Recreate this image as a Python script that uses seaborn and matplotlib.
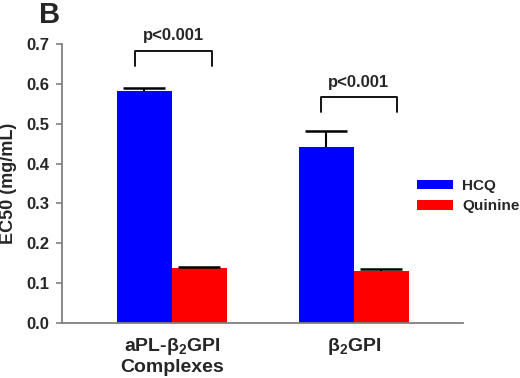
import matplotlib
matplotlib.use("Agg")
import matplotlib.pyplot as plt
import seaborn as sns
import pandas as pd
import numpy as np

categories = ["aPL-$\\mathbf{\\beta}_\\mathbf{2}$GPI\nComplexes", "$\\mathbf{\\beta}_\\mathbf{2}$GPI"]
drugs = ["HCQ", "Quinine"]
hcq_values = [0.581, 0.442]
quinine_values = [0.137, 0.130]
hcq_err = [0.008, 0.039]
quinine_err = [0.003, 0.005]
yticks = [0.0, 0.1, 0.2, 0.3, 0.4, 0.5, 0.6, 0.7]
pvalue_text = ["p<0.001", "p<0.001"]

sns.set_style("white")
plt.rcParams['font.family'] = ['Liberation Sans', 'DejaVu Sans']
plt.rcParams['font.weight'] = 'bold'
plt.rcParams['mathtext.fontset'] = 'custom'
plt.rcParams['mathtext.rm'] = 'Liberation Sans:bold'
plt.rcParams['mathtext.bf'] = 'Liberation Sans:bold'
plt.rcParams['mathtext.it'] = 'Liberation Sans:bold'

df = pd.DataFrame({
    "cat": categories * 2,
    "drug": [drugs[0]] * 2 + [drugs[1]] * 2,
    "val": hcq_values + quinine_values,
})

fig = plt.figure(figsize=(5.2, 3.78), dpi=100)
ax = fig.add_axes([62/520, 1 - 323/378, (463 - 62)/520, (323 - 44)/378])

sns.barplot(data=df, x="cat", y="val", hue="drug", order=categories,
            hue_order=drugs, palette={"HCQ": "#0000FF", "Quinine": "#FF0000"},
            width=0.605, gap=0, errorbar=None, saturation=1, ax=ax,
            linewidth=0)

# one-sided (upper) error bars
off = 0.605 / 4
xs_h = np.arange(len(categories)) - off
xs_q = np.arange(len(categories)) + off
for xs, vals, errs in [(xs_h, hcq_values, hcq_err), (xs_q, quinine_values, quinine_err)]:
    _, caps, _ = ax.errorbar(xs, vals, yerr=[np.zeros(len(vals)), errs], fmt="none",
                             ecolor="black", elinewidth=1.5, capsize=15, capthick=1.8)
    caps[0].set_visible(False)

ax.set_xlim(-0.604, 1.599)
ax.set_ylim(0, 0.7)
ax.set_yticks(yticks)
ax.set_yticklabels([f"{t:.1f}" for t in yticks])
ax.set_xlabel("")
ax.set_ylabel("EC50 (mg/mL)", fontsize=13, fontweight="bold", labelpad=7)

for s in ["top", "right"]:
    ax.spines[s].set_visible(False)
for s in ["left", "bottom"]:
    ax.spines[s].set_color("#808080")
    ax.spines[s].set_linewidth(1.3)
ax.tick_params(axis="y", which="both", left=True, length=4, width=1.2,
               color="#808080", labelsize=12, pad=5)
ax.tick_params(axis="x", bottom=False, labelsize=14, pad=6)
for lbl in ax.get_xticklabels() + ax.get_yticklabels():
    lbl.set_fontweight("bold")
    lbl.set_linespacing(1.15)

# significance brackets
brackets = [(-0.203, 0.220, 0.644, 0.682, 0.722),
            (0.817, 1.236, 0.529, 0.567, 0.604)]
for (x0, x1, yb, yt, ytxt), txt in zip(brackets, pvalue_text):
    ax.plot([x0, x0, x1, x1], [yb, yt, yt, yb], color="black", lw=1.3,
            clip_on=False)
    ax.text((x0 + x1) / 2, ytxt, txt, ha="center", va="center",
            fontsize=12, fontweight="bold", clip_on=False)

leg = ax.legend(loc="upper left", bbox_to_anchor=(355/401, 1 - (179 - 44)/279),
                frameon=False, fontsize=11, handlelength=2.35, handleheight=0.6,
                handletextpad=0.6, labelspacing=0.4, borderaxespad=0,
                borderpad=0)
for t in leg.get_texts():
    t.set_fontweight("bold")

fig.text(39/520, 1 - 15/378, "B", fontsize=21, fontweight="bold",
         ha="left", va="center")

fig.savefig("out.png", dpi=100)
